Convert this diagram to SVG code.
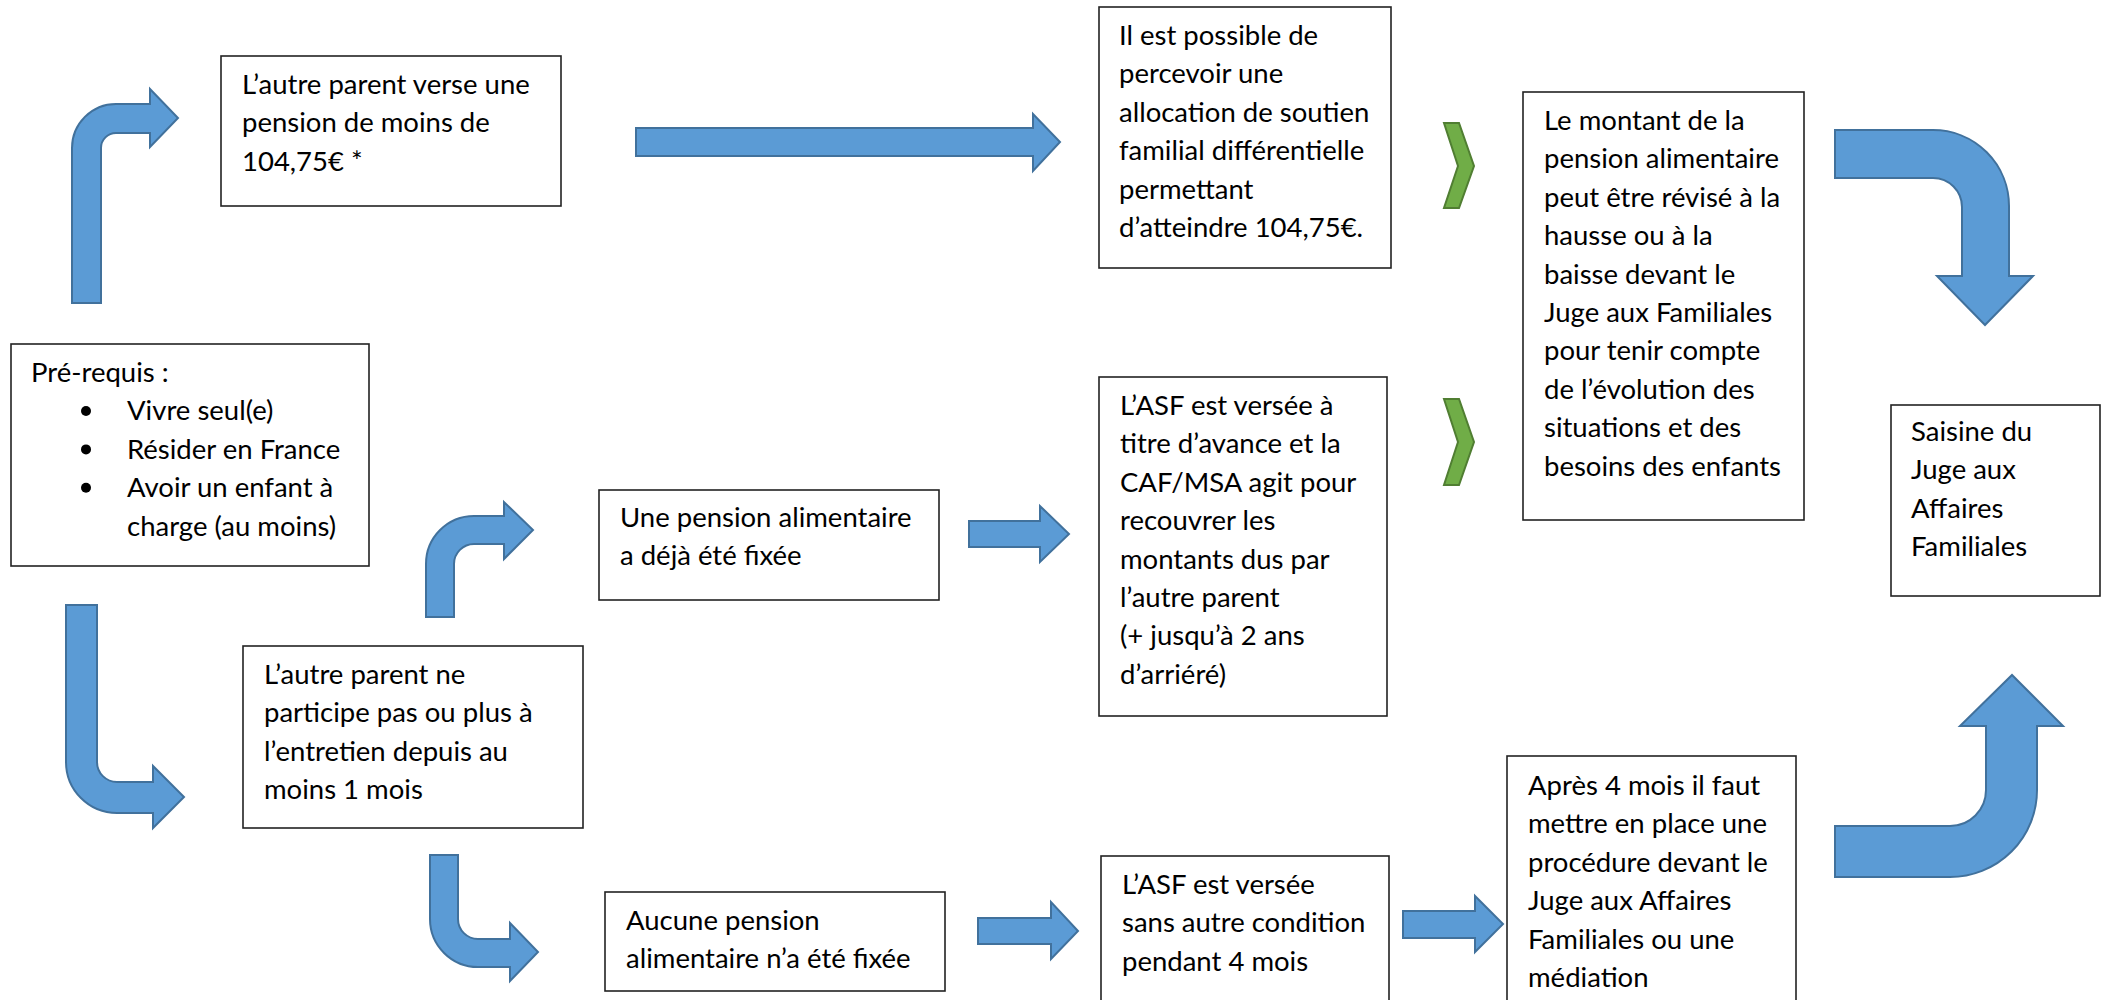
<svg xmlns="http://www.w3.org/2000/svg" width="2105" height="1000" viewBox="0 0 2105 1000">
<style>
.box{fill:#fff;stroke:#222;stroke-width:1.6}
.t{font-family:Lato,"Liberation Sans",sans-serif;font-size:27.5px;fill:#000}
.arr{fill:#5B9BD5;stroke:#41719C;stroke-width:2;stroke-linejoin:miter}
.chev{fill:#70AD47;stroke:#507E32;stroke-width:2}
</style>
<rect width="2105" height="1000" fill="#fff"/>
<g id="connectors">
<path class="arr" d="M72,303 L72,148 A44,44 0 0 1 116,104 L150,104 L150,89 L178,118 L150,147 L150,133 L116,133 A15,15 0 0 0 101,148 L101,303 Z"/>
<path class="arr" d="M636,128 L1033,128 L1033,114 L1060,142 L1033,171 L1033,156 L636,156 Z"/>
<path class="chev" d="M1444,123 L1459,123 L1474,166 L1459,208 L1444,208 L1458,166 Z"/>
<path class="chev" d="M1444,399 L1459,399 L1474,442 L1459,485 L1444,485 L1458,442 Z"/>
<path class="arr" d="M1835,130 L1933,130 A76,76 0 0 1 2009,206 L2009,276 L2033,276 L1985,325 L1937,276 L1962,276 L1962,207 A29,29 0 0 0 1933,178 L1835,178 Z"/>
<path class="arr" d="M66,605 L66,762 A51,51 0 0 0 117,813 L153,813 L153,828 L184,797 L153,766 L153,782 L117,782 A20,20 0 0 1 97,762 L97,605 Z"/>
<path class="arr" d="M426,617 L426,564 A48,48 0 0 1 474,516 L504,516 L504,502 L533,530 L504,559 L504,544 L474,544 A20,20 0 0 0 454,564 L454,617 Z"/>
<path class="arr" d="M969,521 L1040,521 L1040,506 L1069,534 L1040,562 L1040,547 L969,547 Z"/>
<path class="arr" d="M430,855 L430,919 A48,48 0 0 0 478,967 L510,967 L510,981 L538,952 L510,923 L510,939 L478,939 A20,20 0 0 1 458,919 L458,855 Z"/>
<path class="arr" d="M978,918 L1051,918 L1051,902 L1078,931 L1051,959 L1051,944 L978,944 Z"/>
<path class="arr" d="M1403,911 L1475,911 L1475,896 L1503,924 L1475,952 L1475,938 L1403,938 Z"/>
<path class="arr" d="M1835,826 L1950,826 A36,36 0 0 0 1986,790 L1986,726 L1960,726 L2012,675 L2063,726 L2037,726 L2037,790 A87,87 0 0 1 1950,877 L1835,877 Z"/>
</g>
<g id="node-verse">
<rect class="box" x="221" y="56" width="340" height="150"/>
<text class="t" x="242" y="94">L’autre parent verse une</text>
<text class="t" x="242" y="132.4">pension de moins de</text>
<text class="t" x="242" y="170.8">104,75€ *</text>
</g>
<g id="node-possible">
<rect class="box" x="1099" y="7" width="292" height="261"/>
<text class="t" x="1119" y="45">Il est possible de</text>
<text class="t" x="1119" y="83.4">percevoir une</text>
<text class="t" x="1119" y="121.8">allocation de soutien</text>
<text class="t" x="1119" y="160.2">familial différentielle</text>
<text class="t" x="1119" y="198.6">permettant</text>
<text class="t" x="1119" y="237">d’atteindre 104,75€.</text>
</g>
<g id="node-montant">
<rect class="box" x="1523" y="92" width="281" height="428"/>
<text class="t" x="1544" y="130">Le montant de la</text>
<text class="t" x="1544" y="168.4">pension alimentaire</text>
<text class="t" x="1544" y="206.8">peut être révisé à la</text>
<text class="t" x="1544" y="245.2">hausse ou à la</text>
<text class="t" x="1544" y="283.6">baisse devant le</text>
<text class="t" x="1544" y="322">Juge aux Familiales</text>
<text class="t" x="1544" y="360.4">pour tenir compte</text>
<text class="t" x="1544" y="398.8">de l’évolution des</text>
<text class="t" x="1544" y="437.2">situations et des</text>
<text class="t" x="1544" y="475.6">besoins des enfants</text>
</g>
<g id="node-prerequis">
<rect class="box" x="11" y="344" width="358" height="222"/>
<text class="t" x="31" y="382">Pré-requis :</text>
<circle cx="86" cy="411" r="5"/>
<circle cx="86" cy="449.4" r="5"/>
<circle cx="86" cy="487.8" r="5"/>
<text class="t" x="127" y="420.4">Vivre seul(e)</text>
<text class="t" x="127" y="458.8">Résider en France</text>
<text class="t" x="127" y="497.2">Avoir un enfant à</text>
<text class="t" x="127" y="535.6">charge (au moins)</text>
</g>
<g id="node-saisine">
<rect class="box" x="1891" y="405" width="209" height="191"/>
<text class="t" x="1911" y="441">Saisine du</text>
<text class="t" x="1911" y="479.4">Juge aux</text>
<text class="t" x="1911" y="517.8">Affaires</text>
<text class="t" x="1911" y="556.2">Familiales</text>
</g>
<g id="node-fixee">
<rect class="box" x="599" y="490" width="340" height="110"/>
<text class="t" x="620" y="527">Une pension alimentaire</text>
<text class="t" x="620" y="565.4">a déjà été fixée</text>
</g>
<g id="node-avance">
<rect class="box" x="1099" y="377" width="288" height="339"/>
<text class="t" x="1120" y="415">L’ASF est versée à</text>
<text class="t" x="1120" y="453.4">titre d’avance et la</text>
<text class="t" x="1120" y="491.8">CAF/MSA agit pour</text>
<text class="t" x="1120" y="530.2">recouvrer les</text>
<text class="t" x="1120" y="568.6">montants dus par</text>
<text class="t" x="1120" y="607">l’autre parent</text>
<text class="t" x="1120" y="645.4">(+ jusqu’à 2 ans</text>
<text class="t" x="1120" y="683.8">d’arriéré)</text>
</g>
<g id="node-participe">
<rect class="box" x="243" y="646" width="340" height="182"/>
<text class="t" x="264" y="684">L’autre parent ne</text>
<text class="t" x="264" y="722.4">participe pas ou plus à</text>
<text class="t" x="264" y="760.8">l’entretien depuis au</text>
<text class="t" x="264" y="799.2">moins 1 mois</text>
</g>
<g id="node-aucune">
<rect class="box" x="605" y="892" width="340" height="99"/>
<text class="t" x="626" y="930">Aucune pension</text>
<text class="t" x="626" y="968.4">alimentaire n’a été fixée</text>
</g>
<g id="node-sans">
<rect class="box" x="1101" y="856" width="288" height="160"/>
<text class="t" x="1122" y="894">L’ASF est versée</text>
<text class="t" x="1122" y="932.4">sans autre condition</text>
<text class="t" x="1122" y="970.8">pendant 4 mois</text>
</g>
<g id="node-apres">
<rect class="box" x="1507" y="756" width="289" height="260"/>
<text class="t" x="1528" y="795">Après 4 mois il faut</text>
<text class="t" x="1528" y="833.4">mettre en place une</text>
<text class="t" x="1528" y="871.8">procédure devant le</text>
<text class="t" x="1528" y="910.2">Juge aux Affaires</text>
<text class="t" x="1528" y="948.6">Familiales ou une</text>
<text class="t" x="1528" y="987">médiation</text>
</g>
</svg>
